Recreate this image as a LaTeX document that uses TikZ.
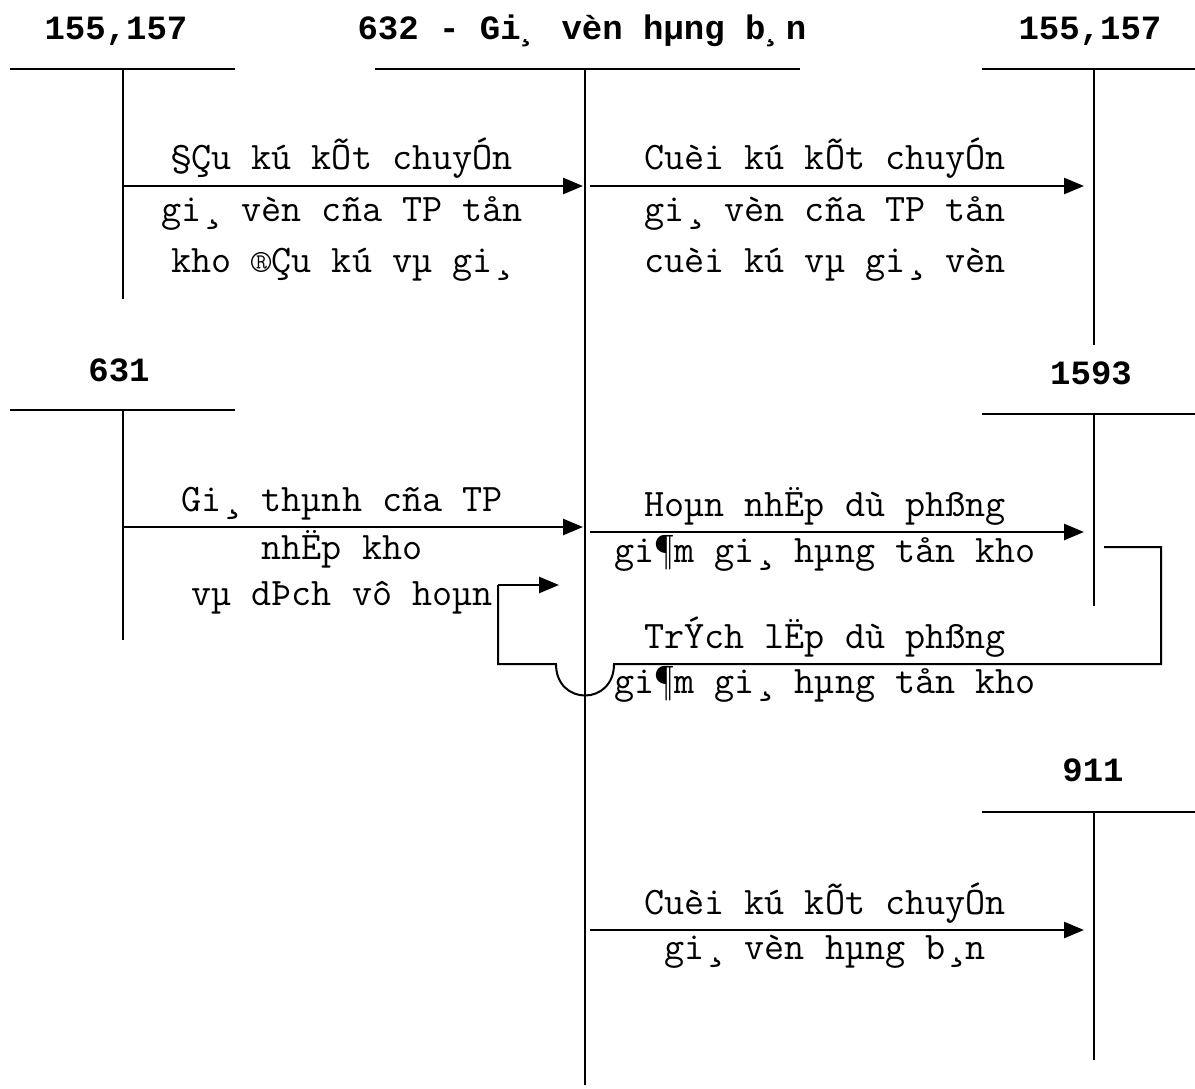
\documentclass[tikz,border=0pt]{standalone}
\usepackage{fontspec}
\newfontfamily\hdrfont{Liberation Mono}
\usetikzlibrary{arrows.meta}
\begin{document}
\begin{tikzpicture}[x=1pt,y=-1pt,
  acc/.style={line width=2pt},
  flow/.style={line width=2.6pt,-{Triangle[length=20pt,width=16pt]}},
  hdr/.style={font=\hdrfont\bfseries\fontsize{34}{40}\selectfont,inner sep=0pt,text height=0.62em,text depth=0.2em},
  lbl/.style={font=\ttfamily\fontsize{39}{46}\selectfont,inner sep=0pt,text height=0.62em,text depth=0.2em}]
\useasboundingbox (0,0) rectangle (1195,1088);
% headers
\node[hdr] (h1) at (116,37) {155,157};
\node[hdr] (h2) at (582,37) {632 - Gi¸ vèn hµng b¸n};
\node[hdr] (h3) at (1090,37) {155,157};
\node[hdr] (h4) at (119,379) {631};
\node[hdr] (h5) at (1091,382) {1593};
\node[hdr] (h6) at (1093,779) {911};
% T accounts
\coordinate (a1l) at (10,69); \coordinate (a1r) at (235,69);
\coordinate (a1t) at (123,69); \coordinate (a1b) at (123,299);
\coordinate (a2l) at (375,69); \coordinate (a2r) at (800,69);
\coordinate (a2t) at (585,69); \coordinate (a2b) at (585,1085);
\coordinate (a3l) at (982,69); \coordinate (a3r) at (1195,69);
\coordinate (a3t) at (1094,69); \coordinate (a3b) at (1094,345);
\coordinate (a4l) at (10,410); \coordinate (a4r) at (235,410);
\coordinate (a4t) at (123,410); \coordinate (a4b) at (123,640);
\coordinate (a5l) at (982,414); \coordinate (a5r) at (1195,414);
\coordinate (a5t) at (1094,414); \coordinate (a5b) at (1094,606);
\coordinate (a6l) at (982,812); \coordinate (a6r) at (1195,812);
\coordinate (a6t) at (1094,812); \coordinate (a6b) at (1094,1060);
\foreach \i in {1,...,6}{
  \draw[acc] (a\i l) -- (a\i r);
  \draw[acc] (a\i t) -- (a\i b);
}
% flows
\coordinate (f1s) at (123,186); \coordinate (f1e) at (583,186);
\coordinate (f2s) at (590,186); \coordinate (f2e) at (1084,186);
\coordinate (f3s) at (123,527); \coordinate (f3e) at (583,527);
\coordinate (f4s) at (590,532); \coordinate (f4e) at (1084,532);
\coordinate (f5s) at (590,930); \coordinate (f5e) at (1084,930);
\foreach \i in {1,...,5}{ \draw[flow] (f\i s) -- (f\i e); }
% loop connector
\coordinate (ls) at (1104,547);
\coordinate (le) at (559,585);
\draw[acc] (ls) -- (1161,547) -- (1161,664) -- (614,664)
  .. controls (614,706) and (556,706) .. (556,664) -- (498,664) -- (498,585);
\draw[flow] (498,585) -- (le);
% labels
\node[lbl] (t1a) at (342,167) {§Çu kú kÕt chuyÓn};
\node[lbl] (t1b) at (342,219) {gi¸ vèn cña TP tån};
\node[lbl] (t1c) at (342,270) {kho ®Çu kú vµ gi¸};
\node[lbl] (t2a) at (825,167) {Cuèi kú kÕt chuyÓn};
\node[lbl] (t2b) at (825,219) {gi¸ vèn cña TP tån};
\node[lbl] (t2c) at (825,270) {cuèi kú vµ gi¸ vèn};
\node[lbl] (t3a) at (342,509) {Gi¸ thµnh cña TP};
\node[lbl] (t3b) at (342,557) {nhËp kho};
\node[lbl] (t3c) at (342,603) {vµ dÞch vô hoµn};
\node[lbl] (t4a) at (825,514) {Hoµn nhËp dù phßng};
\node[lbl] (t4b) at (825,560) {gi¶m gi¸ hµng tån kho};
\node[lbl] (t5a) at (825,646) {TrÝch lËp dù phßng};
\node[lbl] (t5b) at (825,691) {gi¶m gi¸ hµng tån kho};
\node[lbl] (t6a) at (825,912) {Cuèi kú kÕt chuyÓn};
\node[lbl] (t6b) at (825,957) {gi¸ vèn hµng b¸n};
\end{tikzpicture}
\end{document}
